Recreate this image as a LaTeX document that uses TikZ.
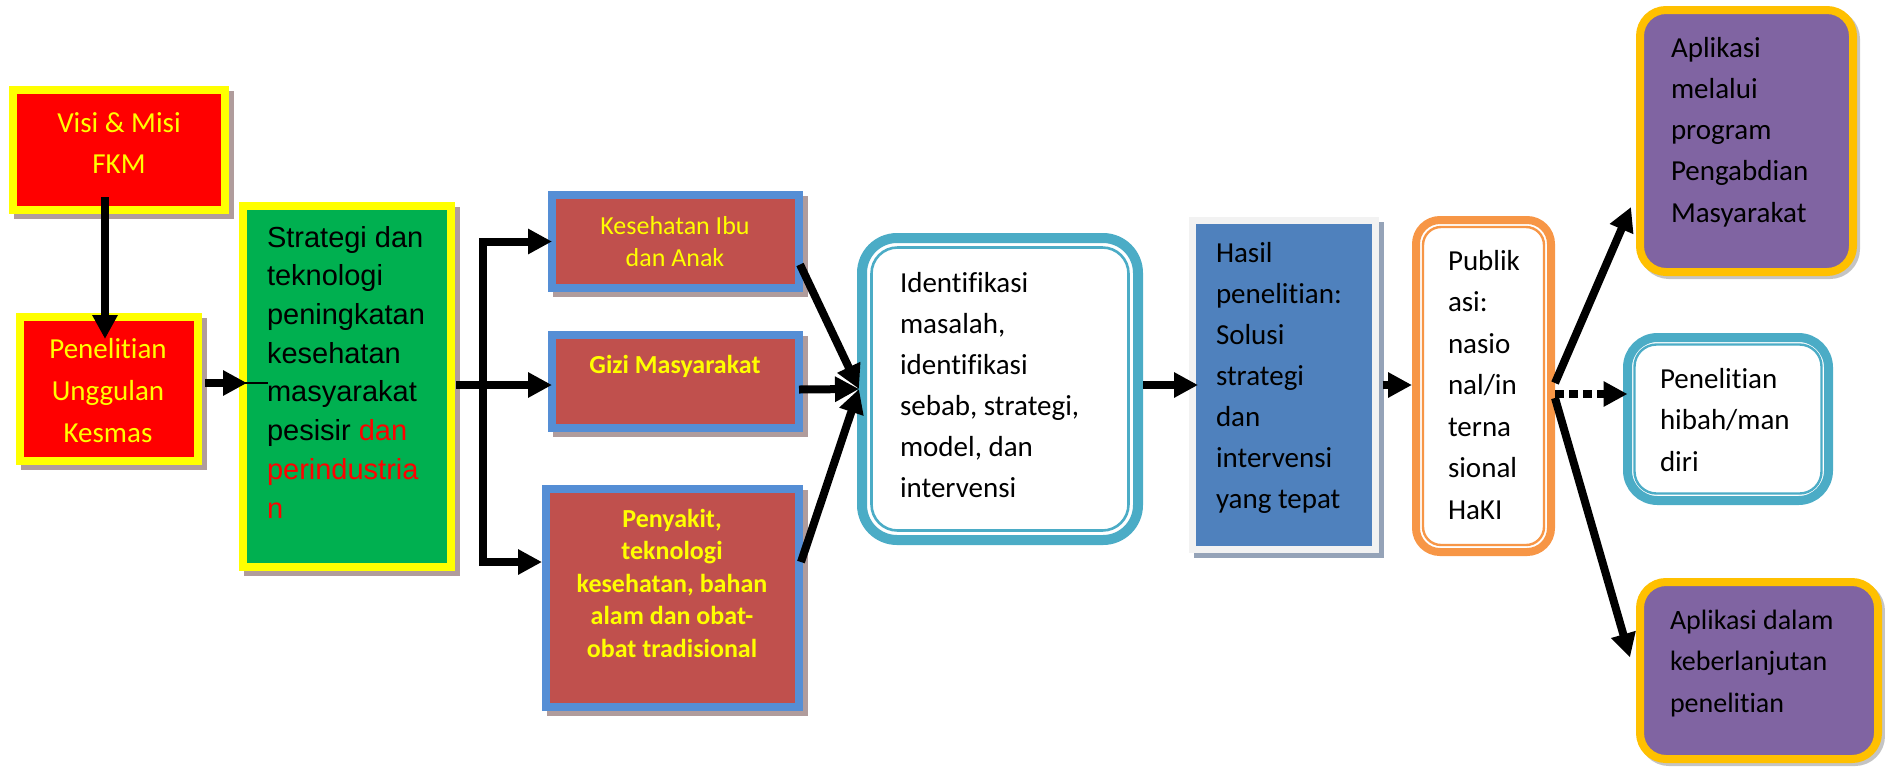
\documentclass[tikz,border=0pt]{standalone}
\usepackage{fontspec}
\setmainfont{Carlito}[Ligatures={NoCommon}]
\newfontfamily\arialfont{Liberation Sans}
\usetikzlibrary{arrows.meta,calc}
\definecolor{cRed}{HTML}{FF0000}
\definecolor{cYel}{HTML}{FFFF00}
\definecolor{cGreen}{HTML}{00B050}
\definecolor{cShadR}{HTML}{B09C9C}
\definecolor{cBrick}{HTML}{C0504D}
\definecolor{cBlueB}{HTML}{558ED5}
\definecolor{cCyan}{HTML}{4BACC6}
\definecolor{cBlue}{HTML}{4F81BD}
\definecolor{cLight}{HTML}{F2F2F2}
\definecolor{cShadB}{HTML}{95A3B8}
\definecolor{cOrange}{HTML}{F79646}
\definecolor{cPurple}{HTML}{8064A2}
\definecolor{cGold}{HTML}{FFC000}
\definecolor{cShadG}{HTML}{C4C4C4}
\begin{document}
\begin{tikzpicture}[x=0.5pt,y=-0.5pt,
  every node/.style={inner sep=0pt,outer sep=0pt},
  shp/.style 2 args={rectangle,minimum width={#1*0.5pt},minimum height={#2*0.5pt}},
  shad/.style={preaction={draw=#1,fill=#1,transform canvas={xshift=2.5pt,yshift=-2.5pt}}},
  redbox/.style={fill=cRed,draw=cYel,line width=4pt,shad=cShadR},
  greenbox/.style={fill=cGreen,draw=cYel,line width=4pt,shad=cShadR},
  brickbox/.style={fill=cBrick,draw=cBlueB,line width=4pt,shad=cShadR},
  cyanbox/.style={fill=white,draw=cCyan,line width=5pt},
  bluebox/.style={fill=cBlue,draw=cLight,line width=3.5pt,shad=cShadB},
  orangebox/.style={fill=white,draw=cOrange,line width=4pt},
  purplebox/.style={fill=cPurple,draw=cGold,line width=4pt,
    preaction={draw=cShadG,fill=cShadG,transform canvas={xshift=1.5pt,yshift=-1.5pt}}},
  ytext/.style={text=cYel,align=center,font=\fontsize{14.5}{20.5}\selectfont},
  btext/.style={text=black,align=left,font=\fontsize{14.5}{20.5}\selectfont},
  arr/.style={line width=4pt,-{Triangle[length=12pt,width=12pt]}},
  dotarr/.style={line width=4pt,dash pattern=on 4.5pt off 2.5pt,-{Triangle[length=12pt,width=12pt]}}
]
\useasboundingbox (0,0) rectangle (1885,767);

% ---------- boxes (text nodes anchored at the baseline of their last line) ----------
\node[shp={212}{120},redbox] (v) at (119,150) {};
\node[ytext,anchor=base] (vt) at (119,173) {Visi \& Misi\\FKM};

\node[shp={178}{144},redbox] (pu) at (109,389) {};
\node[ytext,anchor=base,font=\fontsize{14.5}{21}\selectfont] (put) at (108,442) {Penelitian\\Unggulan\\Kesmas};

\node[shp={208}{361},greenbox] (g) at (347,386.5) {};
\node[anchor=base west,align=left,font=\arialfont\fontsize{14.5}{19.35}\selectfont] (gt) at (267,518)
  {Strategi dan\\teknologi\\peningkatan\\kesehatan\\masyarakat\\pesisir \textcolor{cRed}{dan}\\\textcolor{cRed}{perindustria}\\\textcolor{cRed}{n}};

\node[shp={247}{93},brickbox] (kia) at (675.5,241.5) {};
\node[ytext,anchor=base,font=\fontsize{13}{16}\selectfont] (kiat) at (675,266) {Kesehatan Ibu\\dan Anak};

\node[shp={247}{93},brickbox] (gizi) at (675.5,381.5) {};
\node[ytext,anchor=base,font=\bfseries\fontsize{13}{16}\selectfont] (gizit) at (675,373) {Gizi Masyarakat};

\node[shp={253}{218},brickbox] (peny) at (672.5,598) {};
\node[ytext,anchor=base,font=\bfseries\fontsize{13}{16.25}\selectfont] (penyt) at (672,657)
  {Penyakit,\\teknologi\\kesehatan, bahan\\alam dan obat-\\obat tradisional};

\node[shp={276}{302},cyanbox,rounded corners=17.5pt] (id) at (1000,389) {};
\draw[cCyan,line width=1.3pt,rounded corners=13pt] ($(id.north west)+(9.5,9.5)$) rectangle ($(id.south east)+(-9.5,-9.5)$);
\node[btext,anchor=base west] (idt) at (900,497)
  {Identifikasi\\masalah,\\identifikasi\\sebab, strategi,\\model, dan\\intervensi};

\node[shp={183}{329},bluebox] (hasil) at (1284,385) {};
\node[btext,anchor=base west] (hasilt) at (1216,508)
  {Hasil\\penelitian:\\Solusi\\strategi\\dan\\intervensi\\yang tepat};

\node[shp={135}{332},orangebox,rounded corners=12pt] (pub) at (1483.5,386) {};
\draw[cOrange,line width=1.2pt,rounded corners=9pt] ($(pub.north west)+(7,7)$) rectangle ($(pub.south east)+(-7,-7)$);
\node[btext,anchor=base west,font=\fontsize{14.5}{20.75}\selectfont] (pubt) at (1448,519)
  {Publik\\asi:\\nasio\\nal/in\\terna\\sional\\HaKI};

\node[shp={201}{163},cyanbox,line width=4.5pt,rounded corners=15pt] (hib) at (1728,419) {};
\draw[cCyan,line width=1.2pt,rounded corners=11pt] ($(hib.north west)+(7,7)$) rectangle ($(hib.south east)+(-7,-7)$);
\node[btext,anchor=base west,font=\fontsize{14.5}{20.75}\selectfont] (hibt) at (1660,471)
  {Penelitian\\hibah/man\\diri};

\node[shp={213}{262},purplebox,rounded corners=13pt] (app1) at (1746.5,141) {};
\node[btext,anchor=base west,font=\fontsize{14.5}{20.6}\selectfont] (app1t) at (1671,222)
  {Aplikasi\\melalui\\program\\Pengabdian\\Masyarakat};

\node[shp={238}{177},purplebox,rounded corners=13pt] (app2) at (1759,670.5) {};
\node[btext,anchor=base west,font=\fontsize{14}{20.75}\selectfont] (app2t) at (1670,712)
  {Aplikasi dalam\\keberlanjutan\\penelitian};

% ---------- connectors ----------
\draw[arr] ($(v.south)+(-14,-13)$) -- ($(pu.north)+(-4,22)$);
\draw[arr] ($(pu.east)+(7,-6)$) -- ($(g.west)+(4,-3.5)$);
\draw[line width=0.6pt] ($(g.west)+(-3,-3.5)$) -- ($(g.west)+(25,-3.5)$);

\coordinate (br) at ($(g.east)+(32,-1.5)$);
\draw[arr] ($(g.east)+(5,-1.5)$) -- ($(gizi.west)+(0,3.5)$);
\draw[arr] (br) |- (kia.west);
\draw[arr] (br) |- ($(peny.west)+(-4,-36)$);

\coordinate (idin) at ($(id.west)+(-3,0)$);
\draw[arr] ($(kia.east)+(1,23)$) -- (idin);
\draw[arr] ($(gizi.east)+(0,8)$) -- (idin);
\draw[arr] ($(peny.east)+(2,-36)$) -- (idin);

\draw[arr] ($(id.east |- hasil.west)+(5,0)$) -- ($(hasil.west)+(5.5,0)$);
\draw[arr] ($(hasil.east)+(7,0)$) -- ($(pub.west)+(-4,-1)$);

\draw[arr] ($(pub.east)+(4,-3)$) -- ($(app1.south west)+(-9,-65)$);
\draw[dotarr] ($(pub.east)+(4,8)$) -- ($(hib.west)+(0,-25)$);
\draw[arr] ($(pub.east)+(4,12)$) -- ($(app2.west)+(-10,-13)$);
\end{tikzpicture}
\end{document}
